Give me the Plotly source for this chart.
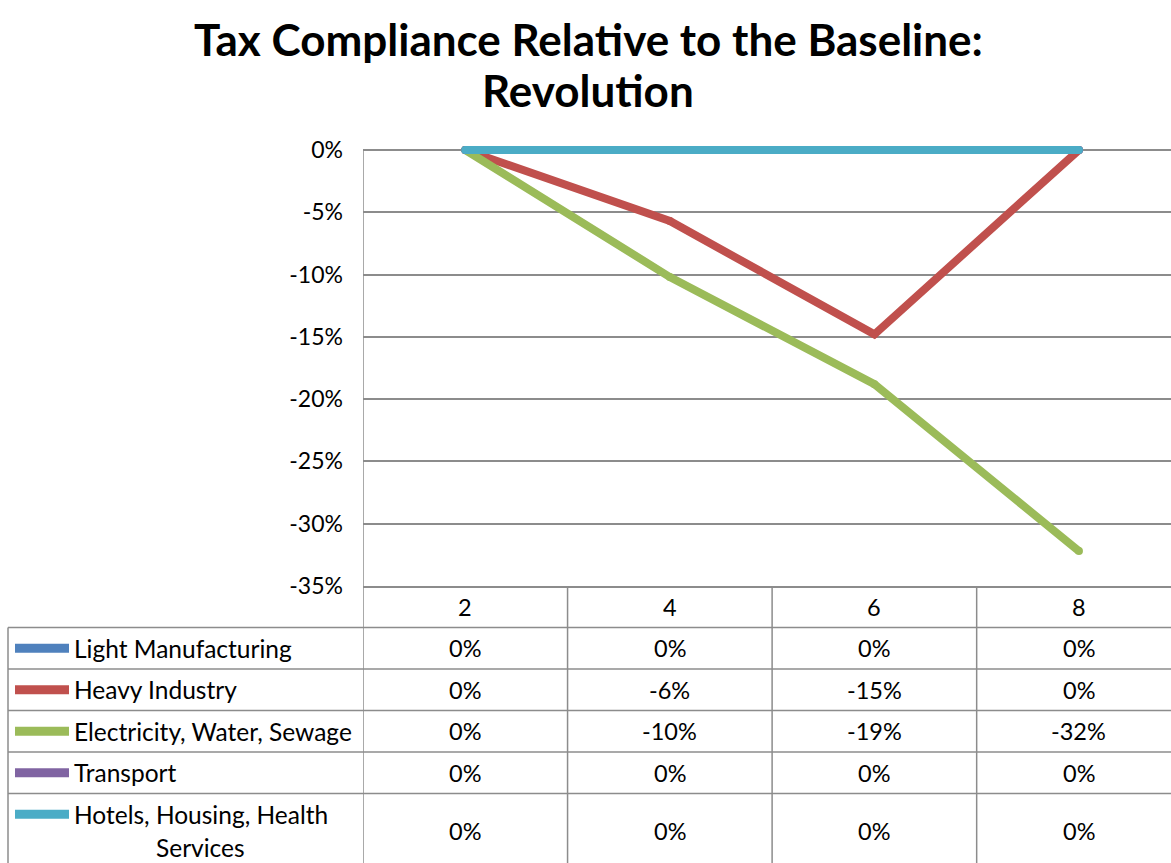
import plotly.graph_objects as go

# ---- data -------------------------------------------------------------
periods = [2, 4, 6, 8]
series_names = [
    "Light Manufacturing",
    "Heavy Industry",
    "Electricity, Water, Sewage",
    "Transport",
    "Hotels, Housing, Health Services",
]
light_manufacturing = [0.0, 0.0, 0.0, 0.0]
heavy_industry = [0.0, -0.057, -0.148, 0.0]
electricity_water_sewage = [0.0, -0.102, -0.188, -0.322]
transport = [0.0, 0.0, 0.0, 0.0]
hotels_housing_health = [0.0, 0.0, 0.0, 0.0]
y_tick_values = [0.0, -0.05, -0.10, -0.15, -0.20, -0.25, -0.30, -0.35]

series_values = [
    light_manufacturing,
    heavy_industry,
    electricity_water_sewage,
    transport,
    hotels_housing_health,
]
series_colors = ["#4F81BD", "#C0504D", "#9BBB59", "#8064A2", "#4BACC6"]

# ---- geometry ---------------------------------------------------------
W, H = 1171, 863
FONT = "Lato"
GRID = "#8C8C8C"
PLOT_LEFT, PLOT_TOP, PLOT_BOTTOM = 363, 150, 586
HEADROOM_PX = 6          # room above the 0% line so thick strokes are not clipped
ROW_PX = 41.5            # height of one data-table row
TABLE_LEFT = 8

Y_MIN, Y_MAX = -0.35, 0.0
per_px = (Y_MAX - Y_MIN) / (PLOT_BOTTOM - PLOT_TOP)


def pct(v):
    return f"{int(round(v * 100))}%"


def px_x(x):
    return x / W


fig = go.Figure()

for name, vals, col in zip(series_names, series_values, series_colors):
    fig.add_trace(go.Scatter(
        x=periods, y=vals, name=name, mode="lines+markers",
        line=dict(color=col, width=8),
        marker=dict(color=col, size=8),
        showlegend=False, hoverinfo="skip", cliponaxis=False,
    ))

shapes = []
annotations = []

# value axis line (stops at the 0% gridline)
shapes.append(dict(type="line", xref="x", yref="y", x0=1, x1=1,
                   y0=Y_MIN, y1=Y_MAX, layer="below",
                   line=dict(color=GRID, width=1.5)))

# table: vertical column separators aligned to the category axis
for xb in [1, 3, 5, 7]:
    shapes.append(dict(type="line", xref="x", yref="y2", x0=xb, x1=xb,
                       y0=0, y1=8, line=dict(color=GRID, width=1.5)))
# table: left border
shapes.append(dict(type="line", xref="paper", yref="y2",
                   x0=px_x(TABLE_LEFT), x1=px_x(TABLE_LEFT), y0=1, y1=8,
                   line=dict(color=GRID, width=1.5)))
# table: row separators
for r in range(1, 6):
    shapes.append(dict(type="line", xref="paper", yref="y2",
                       x0=px_x(TABLE_LEFT), x1=1, y0=r, y1=r,
                       line=dict(color=GRID, width=1.5)))

num_font = dict(family=FONT, size=23.5, color="#000000")
label_font = dict(family=FONT, size=24.5, color="#000000")

# header row: category labels
for p in periods:
    annotations.append(dict(xref="x", yref="y2", x=p, y=0.5, text=str(p),
                            showarrow=False, font=num_font,
                            xanchor="center", yanchor="middle"))

# data rows
row_centers = [1.5, 2.5, 3.5, 4.5, 5.91]
for i, (name, vals, col) in enumerate(zip(series_names, series_values, series_colors)):
    yc = row_centers[i]
    for p, v in zip(periods, vals):
        annotations.append(dict(xref="x", yref="y2", x=p, y=yc, text=pct(v),
                                showarrow=False, font=num_font,
                                xanchor="center", yanchor="middle"))
    swatch_y = yc if i < 4 else 5.5
    shapes.append(dict(type="line", xref="paper", yref="y2",
                       x0=px_x(15), x1=px_x(69), y0=swatch_y, y1=swatch_y,
                       line=dict(color=col, width=9)))
    if i < 4:
        annotations.append(dict(xref="paper", yref="y2", x=px_x(72), y=yc,
                                text=name, showarrow=False, font=label_font,
                                xanchor="left", yanchor="middle"))
    else:
        first, second = "Hotels, Housing, Health", "Services"
        annotations.append(dict(xref="paper", yref="y2", x=px_x(72), y=5.5,
                                text=first, showarrow=False, font=label_font,
                                xanchor="left", yanchor="middle"))
        annotations.append(dict(xref="paper", yref="y2", x=px_x(200), y=6.3,
                                text=second, showarrow=False, font=label_font,
                                xanchor="center", yanchor="middle"))

# two-line title
title_font = dict(family=FONT, size=44, color="#000000")
for line_text, y_px in [("Tax Compliance Relative to the Baseline:", 39),
                        ("Revolution", 90)]:
    annotations.append(dict(
        xref="paper", yref="paper", x=px_x(588), y=1 - y_px / H,
        text=f"<b>{line_text}</b>", showarrow=False,
        xanchor="center", yanchor="middle", font=title_font,
    ))

table_rows = (H - PLOT_BOTTOM) / ROW_PX

fig.update_layout(
    width=W, height=H,
    margin=dict(l=0, r=0, t=0, b=0, pad=0, autoexpand=False),
    paper_bgcolor="white", plot_bgcolor="white",
    xaxis=dict(domain=[PLOT_LEFT / W, 1], range=[1, 8.9], automargin=False,
               showgrid=False, zeroline=False, showticklabels=False,
               showline=True, linecolor=GRID, linewidth=1.5, ticks=""),
    yaxis=dict(domain=[1 - PLOT_BOTTOM / H, 1 - (PLOT_TOP - HEADROOM_PX) / H],
               automargin=False,
               range=[Y_MIN, Y_MAX + HEADROOM_PX * per_px],
               tickvals=y_tick_values,
               ticktext=[pct(v) for v in y_tick_values],
               showgrid=True, gridcolor=GRID, gridwidth=1.5,
               zeroline=False, showline=False,
               ticks="", ticklabelstandoff=19,
               tickfont=dict(family=FONT, size=23, color="#000000")),
    yaxis2=dict(domain=[0, 1 - PLOT_BOTTOM / H], range=[table_rows, 0],
                anchor="x", visible=False, automargin=False),
    shapes=shapes,
    annotations=annotations,
)

fig.write_html("out.html")
